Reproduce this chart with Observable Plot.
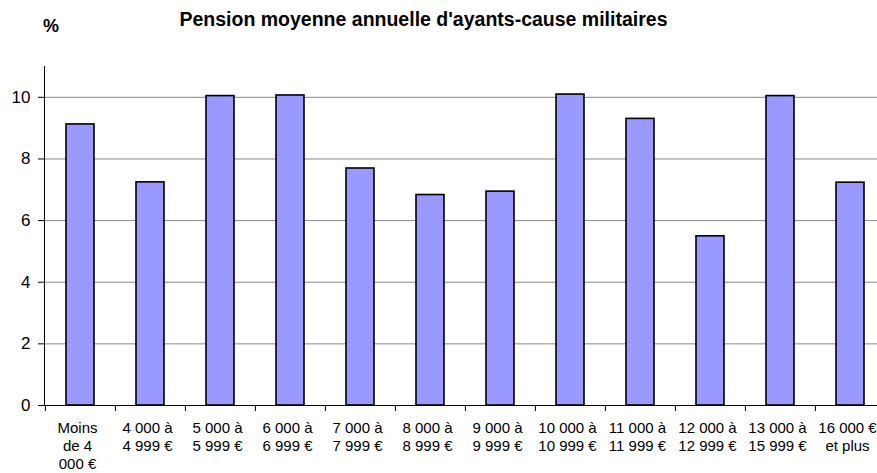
<!DOCTYPE html>
<html>
<head>
<meta charset="utf-8">
<script src="https://cdn.jsdelivr.net/npm/d3@7"></script>
<script src="https://cdn.jsdelivr.net/npm/@observablehq/plot@0.6"></script>
<style>
  html, body { margin: 0; padding: 0; background: #fff; }
  #wrap { position: relative; width: 877px; height: 473px; overflow: hidden; font-family: "Liberation Sans", Arial, sans-serif; }
  #title { position: absolute; left: 0; width: 847px; top: 8px; text-align: center; font-weight: bold; font-size: 19.5px; color: #000; white-space: nowrap; }
  #unit { position: absolute; left: 43px; top: 16px; font-weight: bold; font-size: 18px; color: #000; }
  #chart { position: absolute; left: 0; top: 0; }
</style>
</head>
<body>
<div id="wrap">
  <div id="chart"></div>
  <div id="title">Pension moyenne annuelle d'ayants-cause militaires</div>
  <div id="unit">%</div>
</div>
<script>
const categories = [
  "Moins\nde 4\n000 €",
  "4 000 à\n4 999 €",
  "5 000 à\n5 999 €",
  "6 000 à\n6 999 €",
  "7 000 à\n7 999 €",
  "8 000 à\n8 999 €",
  "9 000 à\n9 999 €",
  "10 000 à\n10 999 €",
  "11 000 à\n11 999 €",
  "12 000 à\n12 999 €",
  "13 000 à\n15 999 €",
  "16 000 €\net plus"
];
const values = [9.12, 7.24, 10.04, 10.06, 7.69, 6.83, 6.94, 10.09, 9.3, 5.49, 10.04, 7.23];
const yTicks = [0, 2, 4, 6, 8, 10];

const data = categories.map((c, i) => ({category: c, value: values[i]}));

const W = 877, mL = 44, mR = -9;
const step = (W - mL - mR) / categories.length;

const chart = Plot.plot({
  width: W,
  height: 473,
  marginLeft: mL,
  marginRight: mR,
  marginTop: 66,
  marginBottom: 68,
  style: {fontFamily: "'Liberation Sans', Arial, sans-serif", fontSize: "15px", color: "#000", background: "transparent"},
  x: {domain: categories, paddingInner: 0.6, paddingOuter: 0.3, label: null},
  y: {domain: [0, 11], label: null},
  marks: [
    Plot.ruleY(yTicks.filter(d => d > 0), {stroke: "#888", strokeWidth: 1}),
    Plot.barY(data, {x: "category", y: "value", fill: "#9999ff", stroke: "#000", strokeWidth: 1.6}),
    Plot.frame({anchor: "left", stroke: "#000"}),
    Plot.ruleY([0], {stroke: "#000"}),
    Plot.axisY({ticks: yTicks, tickSize: 6, tickPadding: 8, fontSize: 17, stroke: "#000", label: null}),
    Plot.axisX({tickSize: 6, tickFormat: () => "", dx: -step / 2, stroke: "#000", label: null}),
    Plot.axisX({tickSize: 0, tickPadding: 15, dx: -3, lineHeight: 1.2, fontSize: 15, label: null})
  ]
});
document.getElementById("chart").appendChild(chart);
</script>
</body>
</html>
